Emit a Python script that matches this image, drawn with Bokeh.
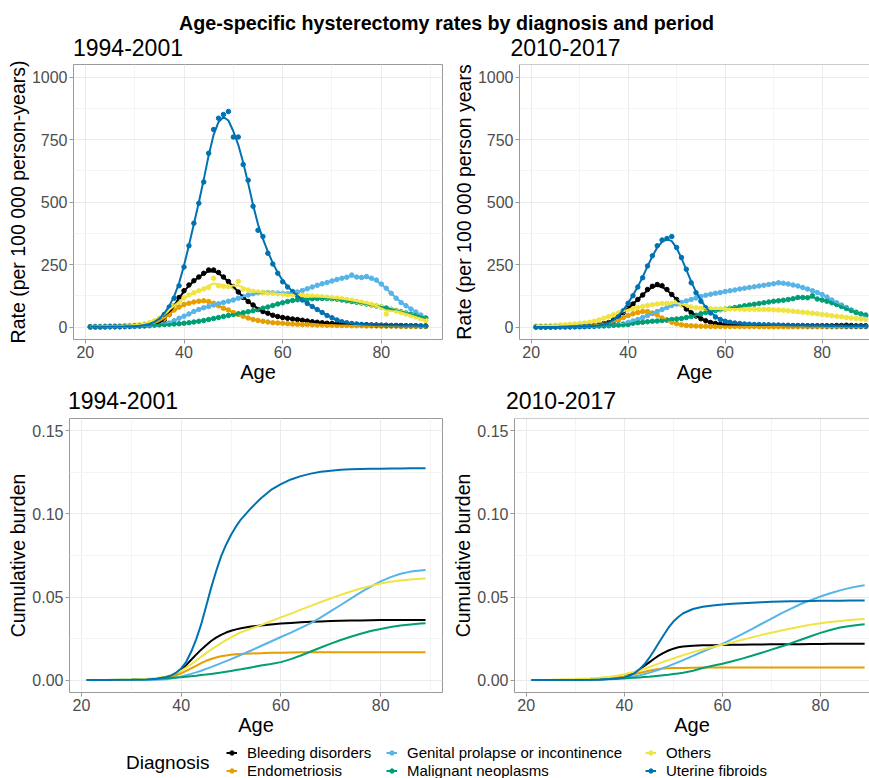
import numpy as np
from bokeh.plotting import figure
from bokeh.models import Range1d, Label, Legend, LegendItem, FixedTicker, Span, NumeralTickFormatter
from bokeh.layouts import column, row
from bokeh.embed import file_html
from bokeh.resources import INLINE

FONT = "Liberation Sans"
BORDER = "#9a9a9a"
GRID = "#ebebeb"
MINOR = "#f4f4f4"
TICKTXT = "#4d4d4d"

# ---------------- data ----------------
ages = list(range(21, 90))
cum_ages = [21, 25, 30, 33, 35, 37, 38, 39, 40, 41, 42, 43, 44, 45, 46, 47, 48, 49, 50, 51, 52,
            54, 56, 58, 60, 62, 64, 66, 68, 70, 72, 74, 76, 78, 80, 82, 84, 86, 88, 89]

diagnoses = ["Bleeding disorders", "Endometriosis", "Genital prolapse or incontinence",
             "Malignant neoplasms", "Others", "Uterine fibroids"]
colors = ["#000000", "#E69F00", "#56B4E9", "#009E73", "#F0E442", "#0072B2"]
periods = ["1994-2001", "2010-2017"]
main_title = "Age-specific hysterectomy rates by diagnosis and period"

x_ticks = [20, 40, 60, 80]
x_minor = [30, 50, 70, 90]
rate_ticks = [0, 250, 500, 750, 1000]
rate_minor = [125, 375, 625, 875]
cum_ticks = [0, 0.05, 0.10, 0.15]
cum_minor = [0.025, 0.075, 0.125]

# Age-specific rates per 100 000 person-years, 1994-2001 (ages 21..89)
r94_bleeding = [0, 0, 0, 1, 1, 1, 1, 2, 2, 3, 4, 5, 6, 9, 15, 28, 50, 85, 118, 145,
                168, 185, 200, 215, 228, 228, 218, 200, 182, 162, 140, 118, 102, 88, 70, 62, 55, 47, 42, 38,
                35, 32, 30, 27, 24, 21, 19, 17, 15, 14, 13, 12, 11, 10, 10, 9, 9, 8, 8, 7,
                7, 6, 6, 6, 5, 5, 5, 4, 4]
r94_endometriosis = [0, 0, 0, 1, 1, 1, 2, 2, 3, 4, 5, 7, 10, 15, 22, 33, 50, 68, 80, 90,
                     95, 100, 103, 105, 102, 95, 85, 75, 68, 58, 50, 43, 36, 30, 26, 23, 20, 17, 16, 15,
                     13, 12, 11, 10, 10, 9, 8, 8, 7, 7, 6, 6, 6, 5, 5, 5, 4, 4, 4, 3,
                     3, 3, 3, 2, 2, 2, 2, 2, 2]
r94_genital = [0, 0, 0, 0, 1, 1, 1, 1, 2, 2, 3, 4, 5, 7, 9, 12, 16, 25, 35, 43,
               52, 62, 70, 77, 82, 88, 93, 98, 103, 108, 115, 122, 128, 133, 137, 138, 138, 137, 136, 135,
               133, 135, 140, 146, 153, 160, 167, 173, 178, 184, 190, 195, 199, 208, 200, 198, 202, 195, 188, 172,
               155, 135, 115, 98, 85, 72, 60, 48, 36]
r94_malignant = [2, 2, 2, 3, 3, 3, 4, 4, 5, 5, 6, 6, 7, 8, 9, 10, 11, 12, 13, 15,
                 17, 20, 23, 26, 30, 34, 38, 42, 46, 50, 53, 57, 61, 65, 70, 75, 80, 86, 92, 97,
                 102, 106, 109, 111, 112, 113, 114, 114, 114, 113, 111, 108, 105, 102, 99, 96, 92, 88, 84, 80,
                 76, 71, 66, 61, 56, 51, 46, 41, 36]
r94_others = [2, 2, 3, 3, 4, 4, 5, 6, 7, 8, 10, 12, 17, 25, 35, 50, 68, 85, 102, 117,
              128, 137, 145, 152, 158, 195, 165, 163, 162, 160, 182, 152, 148, 143, 140, 138, 136, 135, 133, 132,
              130, 129, 128, 127, 125, 124, 122, 121, 119, 117, 115, 113, 110, 107, 103, 99, 95, 90, 86, 80,
              52, 70, 64, 58, 52, 46, 40, 33, 26]
r94_uterine = [1, 1, 1, 1, 2, 2, 2, 3, 3, 4, 5, 7, 10, 18, 30, 50, 80, 115, 165, 240,
               325, 415, 495, 580, 695, 790, 835, 850, 862, 760, 760, 650, 587, 483, 387, 362, 295, 252, 215, 181,
               160, 142, 125, 108, 94, 82, 70, 58, 46, 37, 28, 21, 17, 14, 12, 10, 9, 8, 7, 7,
               6, 6, 6, 5, 5, 5, 5, 4, 4]

# Age-specific rates per 100 000 person-years, 2010-2017 (ages 21..89)
r10_bleeding = [0, 0, 0, 0, 1, 1, 1, 1, 2, 2, 3, 4, 6, 9, 14, 18, 28, 42, 58, 75,
                92, 110, 128, 150, 163, 170, 165, 150, 130, 110, 90, 72, 57, 44, 33, 25, 18, 14, 11, 9,
                8, 7, 7, 6, 6, 6, 5, 5, 5, 5, 5, 5, 5, 5, 5, 5, 5, 5, 5, 5,
                5, 5, 6, 6, 7, 6, 5, 5, 5]
r10_endometriosis = [0, 0, 0, 1, 1, 1, 1, 2, 2, 3, 4, 5, 7, 9, 12, 16, 21, 27, 38, 46,
                     53, 58, 62, 62, 56, 48, 36, 27, 19, 13, 9, 6, 5, 4, 3, 3, 2, 2, 2, 2,
                     2, 2, 2, 2, 2, 2, 1, 1, 1, 1, 1, 1, 1, 1, 1, 1, 1, 1, 1, 1,
                     1, 1, 1, 1, 1, 1, 1, 1, 1]
r10_genital = [0, 0, 0, 0, 0, 0, 0, 1, 1, 1, 1, 2, 2, 3, 4, 5, 7, 9, 13, 18,
               24, 30, 38, 46, 54, 62, 70, 78, 86, 92, 98, 104, 110, 116, 122, 127, 131, 135, 138, 142,
               145, 148, 152, 155, 158, 161, 164, 167, 170, 173, 177, 175, 172, 168, 164, 158, 152, 145, 138, 130,
               120, 108, 97, 88, 78, 68, 60, 52, 44]
r10_malignant = [1, 1, 1, 1, 2, 2, 2, 2, 3, 3, 3, 4, 4, 5, 5, 6, 7, 8, 9, 10,
                 15, 17, 19, 21, 23, 24, 26, 28, 30, 32, 34, 38, 42, 47, 53, 58, 62, 66, 69, 72,
                 75, 78, 81, 85, 88, 91, 94, 97, 100, 103, 105, 107, 110, 113, 118, 118, 117, 125, 112, 108,
                 103, 97, 90, 82, 74, 66, 58, 52, 48]
r10_others = [4, 5, 5, 6, 7, 8, 9, 11, 12, 14, 16, 19, 23, 28, 35, 42, 49, 56, 63, 70,
              74, 78, 82, 86, 89, 92, 94, 95, 94, 103, 88, 84, 80, 77, 75, 74, 73, 72, 72, 72,
              72, 72, 72, 71, 71, 71, 70, 70, 70, 69, 68, 67, 65, 63, 61, 59, 57, 55, 53, 50,
              48, 45, 43, 41, 38, 36, 34, 32, 30]
r10_uterine = [0, 0, 0, 0, 0, 1, 1, 1, 1, 2, 2, 3, 4, 6, 9, 15, 25, 42, 65, 95,
               125, 160, 197, 244, 285, 325, 348, 354, 362, 318, 278, 231, 177, 137, 103, 77, 56, 40, 30, 23,
               19, 16, 14, 12, 11, 10, 10, 9, 9, 8, 8, 7, 7, 6, 6, 6, 5, 5, 5, 5,
               4, 4, 4, 4, 3, 3, 3, 3, 3]

# Cumulative burden at cum_ages, 1994-2001
c94_bleeding = [0, 0, 0.0001, 0.0003, 0.0006, 0.0014, 0.0022, 0.0035, 0.006,
                0.009, 0.0122, 0.0153, 0.0183, 0.021, 0.0235, 0.0255, 0.0272, 0.0286, 0.0297, 0.0305, 0.0312,
                0.0322, 0.0329, 0.0335, 0.034, 0.0344, 0.0348, 0.0351, 0.0353, 0.0355, 0.0357, 0.0358, 0.0359,
                0.036, 0.0361, 0.0361, 0.0362, 0.0362, 0.0362, 0.0362]
c94_endometriosis = [0, 0, 0.0001, 0.0003, 0.0006, 0.0013, 0.0019, 0.0028, 0.004,
                     0.0055, 0.007, 0.0086, 0.0102, 0.0116, 0.0127, 0.0136, 0.0143, 0.0148, 0.0152, 0.0155, 0.0157,
                     0.016, 0.0162, 0.0164, 0.0165, 0.0166, 0.0167, 0.0167, 0.0168, 0.0168, 0.0168, 0.0168, 0.0168,
                     0.0168, 0.0168, 0.0168, 0.0168, 0.0168, 0.0168, 0.0168]
c94_genital = [0, 0, 0, 0.0001, 0.0002, 0.0005, 0.0009, 0.0014, 0.0022,
               0.0029, 0.0037, 0.0046, 0.0056, 0.0067, 0.0078, 0.009, 0.0102, 0.0114, 0.0126, 0.0139, 0.0152,
               0.0178, 0.0205, 0.0232, 0.0259, 0.0286, 0.0314, 0.0343, 0.0378, 0.0415, 0.0452, 0.049, 0.0528,
               0.0563, 0.0594, 0.062, 0.064, 0.0653, 0.066, 0.0662]
c94_malignant = [0, 0.0001, 0.0003, 0.0006, 0.0008, 0.0011, 0.0013, 0.0015, 0.0017,
                 0.002, 0.0023, 0.0026, 0.003, 0.0033, 0.0037, 0.0041, 0.0045, 0.005, 0.0055, 0.006, 0.0065,
                 0.0076, 0.0087, 0.0097, 0.0108, 0.0126, 0.0148, 0.0172, 0.0196, 0.0219, 0.0241, 0.0261, 0.0279,
                 0.0295, 0.0308, 0.0319, 0.0328, 0.0335, 0.034, 0.0342]
c94_others = [0, 0.0001, 0.0004, 0.0008, 0.0013, 0.0022, 0.0029, 0.004, 0.0056,
              0.0075, 0.0095, 0.0118, 0.014, 0.0162, 0.0183, 0.0203, 0.0222, 0.024, 0.0257, 0.0273, 0.0288,
              0.031, 0.0331, 0.0354, 0.0377, 0.04, 0.0424, 0.0447, 0.047, 0.0492, 0.0513, 0.0533, 0.0551,
              0.0567, 0.0581, 0.0592, 0.06, 0.0606, 0.061, 0.0612]
c94_uterine = [0, 0, 0.0002, 0.0004, 0.0008, 0.0018, 0.0028, 0.0045, 0.007,
               0.011, 0.017, 0.0245, 0.0335, 0.0445, 0.0555, 0.0655, 0.0745, 0.0815, 0.0875, 0.0925, 0.0968,
               0.1035, 0.1095, 0.1145, 0.118, 0.1208, 0.1228, 0.1243, 0.1254, 0.1261, 0.1266, 0.1269, 0.1271,
               0.1272, 0.1273, 0.1274, 0.1274, 0.1275, 0.1275, 0.1275]

# Cumulative burden at cum_ages, 2010-2017
c10_bleeding = [0, 0, 0.0001, 0.0002, 0.0004, 0.0008, 0.0011, 0.0015, 0.002,
                0.0031, 0.0045, 0.0062, 0.0083, 0.0105, 0.0127, 0.0147, 0.0164, 0.0178, 0.0189, 0.0197, 0.0202,
                0.0207, 0.0209, 0.021, 0.0211, 0.0212, 0.0213, 0.0214, 0.0214, 0.0215, 0.0215, 0.0216, 0.0216,
                0.0217, 0.0217, 0.0218, 0.0218, 0.0219, 0.0219, 0.0219]
c10_endometriosis = [0, 0, 0.0002, 0.0004, 0.0006, 0.001, 0.0013, 0.0017, 0.0022,
                     0.0028, 0.0035, 0.0042, 0.0049, 0.0056, 0.0062, 0.0066, 0.0069, 0.0071, 0.0072, 0.0073, 0.0073,
                     0.0074, 0.0075, 0.0075, 0.0075, 0.0075, 0.0075, 0.0075, 0.0075, 0.0075, 0.0076, 0.0076, 0.0076,
                     0.0076, 0.0076, 0.0076, 0.0076, 0.0076, 0.0076, 0.0076]
c10_genital = [0, 0, 0.0001, 0.0002, 0.0003, 0.0005, 0.0007, 0.001, 0.0013,
               0.0017, 0.0022, 0.0028, 0.0035, 0.0043, 0.0052, 0.0062, 0.0073, 0.0084, 0.0096, 0.0108, 0.012,
               0.0146, 0.0172, 0.0196, 0.0218, 0.0246, 0.0276, 0.0307, 0.0339, 0.037, 0.0401, 0.043, 0.0458,
               0.0481, 0.0503, 0.0523, 0.054, 0.0555, 0.0566, 0.0571]
c10_malignant = [0, 0.0001, 0.0002, 0.0004, 0.0005, 0.0007, 0.0008, 0.0009, 0.001,
                 0.0012, 0.0014, 0.0016, 0.0018, 0.002, 0.0023, 0.0026, 0.0029, 0.0032, 0.0036, 0.004, 0.0044,
                 0.0056, 0.0072, 0.0086, 0.0098, 0.0113, 0.0129, 0.0146, 0.0164, 0.0183, 0.0202, 0.0222, 0.0243,
                 0.0264, 0.0284, 0.0301, 0.0316, 0.0326, 0.0333, 0.0336]
c10_others = [0, 0.0002, 0.0006, 0.001, 0.0014, 0.002, 0.0024, 0.0029, 0.0035,
              0.0042, 0.0049, 0.0057, 0.0066, 0.0077, 0.0088, 0.0099, 0.011, 0.012, 0.013, 0.014, 0.015,
              0.0168, 0.0184, 0.0199, 0.0213, 0.0227, 0.0242, 0.0257, 0.0272, 0.0285, 0.0298, 0.031, 0.0322,
              0.0333, 0.0342, 0.035, 0.0356, 0.0361, 0.0366, 0.0368]
c10_uterine = [0, 0, 0.0001, 0.0002, 0.0003, 0.0006, 0.0008, 0.0011, 0.0016,
               0.0026, 0.004, 0.0062, 0.0092, 0.013, 0.0175, 0.0223, 0.027, 0.0315, 0.0352, 0.038, 0.0402,
               0.0428, 0.0441, 0.0449, 0.0455, 0.0459, 0.0463, 0.0466, 0.0469, 0.0471, 0.0473, 0.0474, 0.0475,
               0.0476, 0.0477, 0.0478, 0.0478, 0.0479, 0.0479, 0.0479]

rates = {
    "1994-2001": [r94_bleeding, r94_endometriosis, r94_genital, r94_malignant, r94_others, r94_uterine],
    "2010-2017": [r10_bleeding, r10_endometriosis, r10_genital, r10_malignant, r10_others, r10_uterine],
}
cums = {
    "1994-2001": [c94_bleeding, c94_endometriosis, c94_genital, c94_malignant, c94_others, c94_uterine],
    "2010-2017": [c10_bleeding, c10_endometriosis, c10_genital, c10_malignant, c10_others, c10_uterine],
}


def smooth(x, y, h=1.0):
    """Local-linear Gaussian kernel smoother evaluated at the observed ages."""
    x = np.asarray(x, float)
    y = np.asarray(y, float)
    out = []
    for a in x:
        w = np.sqrt(np.exp(-0.5 * ((x - a) / h) ** 2))
        X = np.vstack([np.ones_like(x), x - a]).T
        beta = np.linalg.lstsq(X * w[:, None], y * w, rcond=None)[0]
        out.append(beta[0])
    return np.array(out)


def strip(height):
    f = figure(width=869, height=height, x_range=Range1d(0, 869), y_range=Range1d(0, height),
               x_axis_type=None, y_axis_type=None, output_backend="svg", toolbar_location=None,
               min_border=0, title=None)
    f.outline_line_color = None
    f.grid.visible = False
    f.background_fill_color = "white"
    f.border_fill_color = "white"
    return f


def make_panel(width, height, mb, x_end, y_rng, ylabel, right, yticks, yminor, fmt=None):
    p = figure(width=width, height=height, x_range=Range1d(17.6, x_end), y_range=Range1d(*y_rng),
               output_backend="svg", toolbar_location=None, title=None,
               min_border_left=mb[0], min_border_right=mb[1], min_border_top=mb[2], min_border_bottom=mb[3])
    p.background_fill_color = "white"
    p.border_fill_color = "white"
    p.xaxis.ticker = FixedTicker(ticks=x_ticks, minor_ticks=x_minor)
    p.yaxis.ticker = FixedTicker(ticks=yticks, minor_ticks=yminor)
    if fmt:
        p.yaxis.formatter = NumeralTickFormatter(format=fmt)
    for ax in (p.xaxis[0], p.yaxis[0]):
        ax.major_label_text_font = FONT
        ax.major_label_text_font_size = "16px"
        ax.major_label_text_color = TICKTXT
        ax.axis_label_text_font = FONT
        ax.axis_label_text_font_size = "20px"
        ax.axis_label_text_font_style = "normal"
        ax.axis_label_text_color = "black"
        ax.major_tick_in = 0
        ax.major_tick_out = 4
        ax.major_tick_line_color = BORDER
        ax.minor_tick_line_color = None
        ax.axis_line_color = BORDER if right else None
    p.xaxis.axis_label = "Age"
    p.xaxis.major_label_standoff = 2
    p.xaxis.axis_label_standoff = 0
    p.yaxis.axis_label = ylabel
    p.yaxis.axis_label_text_font_size = "19.5px"
    p.yaxis.major_label_standoff = 2
    p.yaxis.axis_label_standoff = 0
    for g in (p.xgrid[0], p.ygrid[0]):
        g.grid_line_color = GRID
        g.grid_line_width = 1
        g.minor_grid_line_color = MINOR
        g.minor_grid_line_width = 1
    if right:
        p.outline_line_color = None
        p.add_layout(Span(location=y_rng[1], dimension="width", line_color=BORDER, line_width=1))
    else:
        p.outline_line_color = BORDER
        p.outline_line_width = 1
    return p


def title_label(x, y, text, size, bold=False, align="left"):
    return Label(x=x, y=y, text=text, text_align=align, text_baseline="middle", text_font=FONT,
                 text_font_size=size, text_font_style="bold" if bold else "normal", text_color="black")


# ---- header: main title + top panel titles ----
hdr = strip(60)
hdr.add_layout(title_label(446, 37.2, main_title, "19.7px", bold=True, align="center"))
hdr.add_layout(title_label(72.5, 13.5, periods[0], "23px"))
hdr.add_layout(title_label(510, 13.5, periods[1], "23px"))

# ---- top row: rates ----
top_specs = [
    (periods[0], 449, (73, 7, 4, 44), 92.4, "Rate (per 100 000 person-years)", False),
    (periods[1], 420, (64, 0, 4, 44), 89.77, "Rate (per 100 000 person years", True),
]
top_figs = []
for per, w, mb, xe, yl, right in top_specs:
    p = make_panel(w, 325, mb, xe, (-50, 1050), yl, right, rate_ticks, rate_minor)
    for vals, c in zip(rates[per], colors):
        p.scatter(ages, vals, size=4.5, color=c, line_color=c)
    for vals, c in zip(rates[per], colors):
        p.line(ages, smooth(ages, vals), color=c, line_width=2)
    top_figs.append(p)

# ---- strip with bottom panel titles ----
mid = strip(29)
mid.add_layout(title_label(67.5, 14, periods[0], "23px"))
mid.add_layout(title_label(505.5, 14, periods[1], "23px"))

# ---- bottom row: cumulative burden ----
bot_specs = [
    (periods[0], 449, (69, 7, 4, 44), 92.4, False),
    (periods[1], 420, (59, 0, 4, 44), 89.99, True),
]
bot_figs = []
for per, w, mb, xe, right in bot_specs:
    p = make_panel(w, 324, mb, xe, (-0.0075, 0.1575), "Cumulative burden", right,
                   cum_ticks, cum_minor, fmt="0.00")
    for vals, c in zip(cums[per], colors):
        p.line(cum_ages, vals, color=c, line_width=2)
    bot_figs.append(p)

# ---- legend strip ----
lg = strip(40)
leg_r = []
for c in colors:
    rl = lg.line([np.nan], [np.nan], color=c, line_width=2)
    rs = lg.scatter([np.nan], [np.nan], size=4.5, color=c)
    leg_r.append([rl, rs])
legend_pos = [(226, 17), (226, -0.5), (386, 17), (386, -0.5), (645, 17), (645, -0.5)]
for i, (lx, ly) in enumerate(legend_pos):
    leg = Legend(items=[LegendItem(label=diagnoses[i], renderers=leg_r[i])], location=(lx, ly),
                 orientation="vertical", glyph_width=11, glyph_height=15, label_height=15,
                 label_standoff=10, spacing=0, padding=0, margin=0, border_line_color=None,
                 background_fill_alpha=0, label_text_font=FONT, label_text_font_size="15px",
                 label_text_color="black")
    lg.add_layout(leg)
lg.add_layout(title_label(125.5, 16.3, "Diagnosis", "19px"))

layout = column(hdr, row(top_figs[0], top_figs[1]), mid, row(bot_figs[0], bot_figs[1]), lg)
open("out.html", "w").write(file_html(layout, INLINE))
